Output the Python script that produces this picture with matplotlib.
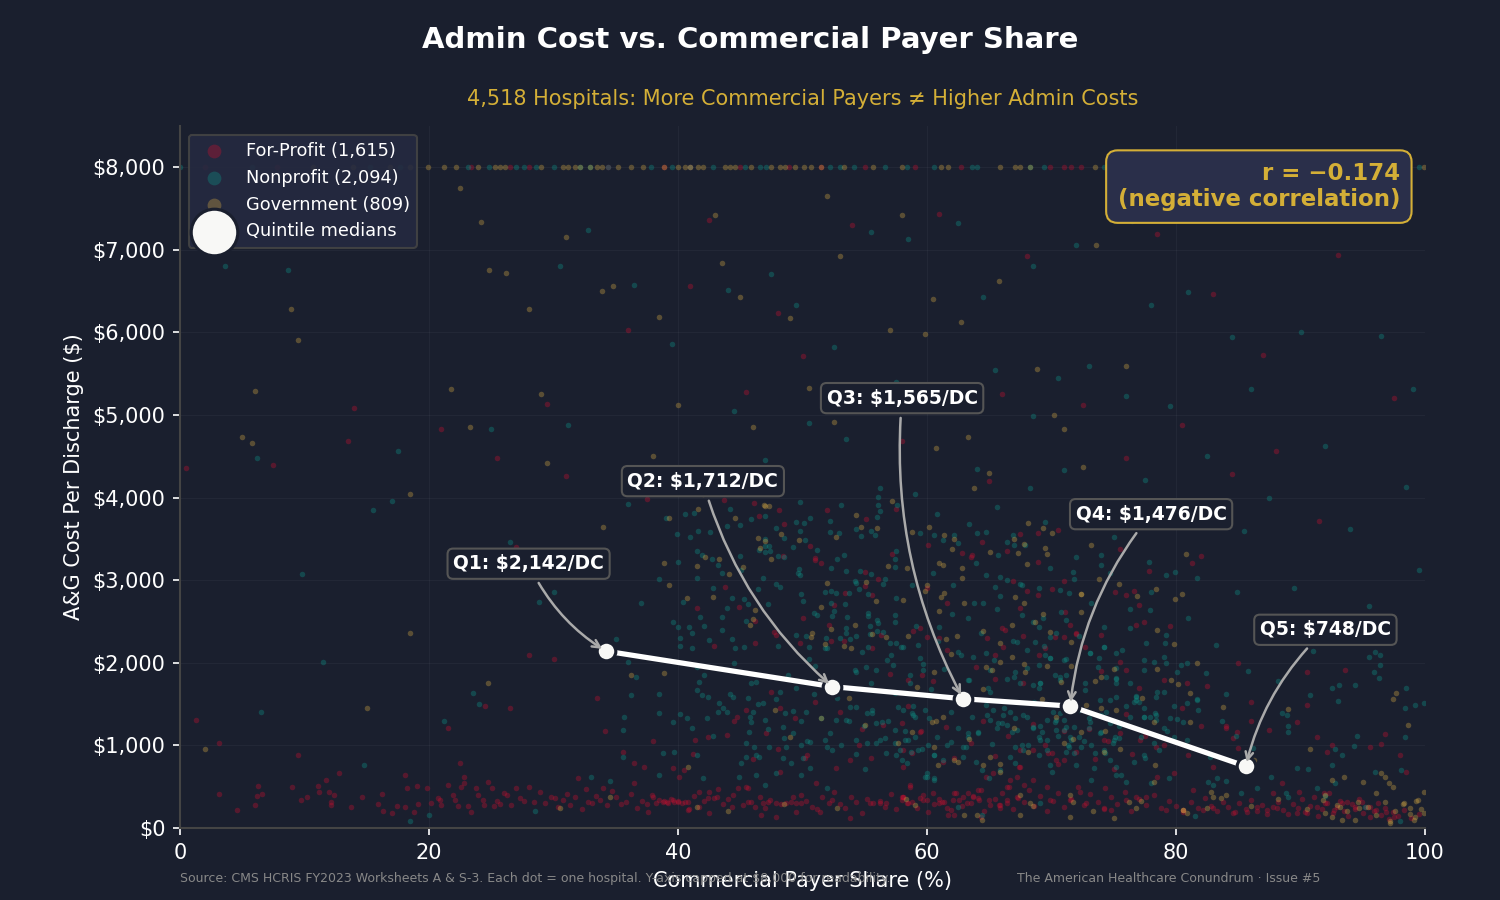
import matplotlib
matplotlib.use('Agg')
import matplotlib.pyplot as plt
from matplotlib.ticker import FuncFormatter

BG = '#1a1f2e'
RED = '#c8102e'
TEAL = '#0d9488'
GOLD = '#d4a843'

# (commercial share %, A&G cost per discharge)
for_profit = [
    (1.3,1307),(3.1,1029),(9.5,883),(6.3,510),(6.6,410),(6.2,390),(3.1,410),(4.6,220),(6.0,280),(9.0,500),
    (11.1,510),(11.7,580),(12.8,670),(10.2,370),(9.7,340),(11.2,440),(12.0,440),(12.4,400),(12.1,310),(12.1,280),
    (13.7,250),(14.6,370),(16.2,410),(15.9,290),(17.4,270),(17.0,180),(16.3,200),(18.1,640),(18.2,480),(19.0,510),
    (19.1,290),(18.1,260),(18.8,190),(19.8,480),(20.2,300),(20.7,360),(20.9,340),(21.0,280),(21.5,520),(21.9,400),
    (22.1,340),(22.3,270),(22.6,500),(22.8,540),(22.8,620),(22.5,790),(21.5,1210),(23.1,270),(23.4,190),(23.8,490),
    (23.9,400),(24.3,340),(24.4,280),(24.7,560),(25.1,490),(25.2,270),(25.5,330),(25.7,290),(26.0,420),(26.3,400),
    (26.6,280),(27.0,490),(27.3,360),(27.6,330),(28.0,500),(28.4,310),(28.9,440),(29.3,300),(29.8,380),(30.1,360),
    (30.4,260),(30.8,340),(31.1,410),(31.3,280),(31.7,370),(32.0,610),(32.3,230),(32.6,470),(32.8,320),(33.1,300),
    (33.4,390),(33.7,340),(34.0,490),(34.1,1180),(34.3,280),(34.7,450),(35.0,380),(35.4,290),(35.8,310),(36.2,410),
    (36.7,240),(37.1,330),(37.5,290),(37.9,400),(38.2,300),(38.5,340),(38.9,330),(39.1,310),(39.4,350),(39.7,320),
    (40.0,330),(40.3,300),(40.6,310),(40.9,230),(41.3,390),(41.7,250),(42.1,330),(42.5,430),(42.9,360),(43.2,470),
    (43.6,290),(44.0,350),(44.4,400),(44.8,480),(45.2,280),(45.6,310),(45.9,310),(46.2,260),(46.6,380),(47.0,240),
    (47.4,340),(47.9,300),(48.3,290),(48.7,300),(49.1,310),(49.5,190),(49.9,400),(50.3,330),(50.8,260),(51.2,230),
    (51.6,380),(52.1,300),(52.5,440),(53.0,290),(53.4,240),(53.9,370),(54.3,310),(54.8,180),(55.2,350),(55.7,300),
    (56.2,330),(56.6,260),(57.1,410),(57.5,230),(58.0,370),(58.4,300),(58.8,320),(59.2,240),(59.7,400),(60.1,190),
    (60.6,290),(61.0,350),(61.4,310),(61.9,220),(62.3,420),(62.8,270),(63.2,300),(63.7,390),(64.2,340),(64.6,210),
    (65.1,280),(65.5,350),(66.0,420),(66.4,300),(66.9,230),(67.3,360),(67.8,320),(68.2,460),(68.6,270),(69.1,390),
    (69.6,200),(70.1,330),(70.5,420),(71.0,250),(71.6,350),(72.1,500),(72.6,280),(73.1,410),(73.7,320),(74.2,230),
    (74.8,370),(75.3,290),(75.9,440),(76.4,210),(77.0,350),(77.6,280),(78.2,400),(78.8,240),(79.4,330),(80.0,270),
    (80.6,190),(81.2,310),(81.8,240),(82.3,360),(82.8,270),(83.3,210),(83.8,320),(84.2,250),(84.7,190),(85.1,300),
    (85.6,230),(86.0,340),(86.5,210),(86.9,280),(87.3,170),(87.8,260),(88.2,320),(88.6,220),(89.0,170),(89.4,290),
    (89.8,240),(90.1,350),(90.4,190),(90.8,270),(91.1,380),(91.4,150),(91.7,230),(92.0,300),(92.3,420),(92.6,180),
    (92.9,250),(93.2,330),(93.5,210),(93.8,140),(94.1,290),(94.4,230),(94.7,350),(95.0,180),(95.3,260),(95.6,130),
    (95.9,210),(96.2,300),(96.5,160),(96.8,240),(97.1,110),(97.4,190),(97.8,150),(98.3,220),(98.9,120),(99.5,170),
    # low band, second pass
    (37.6,197),(38.0,379),(38.8,318),(39.2,298),(39.6,339),(40.0,318),(40.8,218),(40.8,318),(41.7,440),(42.4,359),
    (43.1,379),(42.5,177),(44.3,258),(45.6,480),(46.8,298),(47.2,318),(46.7,157),(47.9,137),(49.5,298),(49.9,298),
    (49.2,379),(51.4,197),(52.4,339),(53.8,117),(55.4,298),(56.2,298),(56.7,298),(58.1,379),(58.6,520),(59.7,339),
    (61.0,298),(61.7,157),(62.6,339),(63.7,379),(64.1,460),(65.0,339),(65.8,278),(66.6,500),(67.4,742),(67.8,520),
    (69.7,904),(45.5,500),(36.5,540),(40.1,621),(39.6,722),(37.3,742),(36.5,790),(35.6,924),(43.9,1126),(44.7,1348),
    (45.5,1428),(48.2,1449),(49.4,1328),(47.5,1650),(42.4,1105),(47.1,1146),(48.2,682),(50.4,884),(50.2,843),(51.1,540),
    (52.7,722),(53.8,823),(54.8,1194),(58.1,944),
    (58.1,378),(58.0,338),(58.6,500),(59.4,358),(60.0,338),(61.2,318),(62.1,338),(62.9,378),(63.5,298),(64.1,358),
    (64.3,459),(62.2,843),(61.6,237),(62.2,157),(65.9,278),(66.4,338),(66.4,500),(66.7,580),(67.5,742),(68.5,580),
    (67.2,378),(69.6,500),(69.9,338),(70.4,822),(71.0,822),(72.3,439),(71.5,338),(72.8,298),(74.3,479),(74.2,237),
    (74.8,217),(76.0,338),(76.8,378),(77.6,378),(79.2,217),(80.6,217),(81.4,459),(79.8,661),(78.4,984),(77.1,1065),
    (75.5,1145),(74.2,1065),(70.0,903),(68.5,944),(67.2,621),(58.5,298),(58.1,742),(59.4,1165),(58.0,1266),(58.8,903),
    (65.3,661),(64.7,621),(61.3,802),(62.2,419),(63.3,419),(60.5,419),(65.9,237),(64.3,136),
    (82.2,217),(83.0,237),(84.6,177),(85.7,197),(86.5,258),(87.3,217),(88.1,237),(89.7,177),(90.5,177),(91.3,258),
    (92.1,298),(92.7,217),(93.3,298),(93.7,318),(94.4,258),(94.9,318),(95.6,258),(96.1,217),(96.9,197),(97.5,137),
    (91.9,419),(89.9,439),(87.8,419),(84.9,1166),(84.6,1085),(92.1,924),(91.3,1105),(90.5,1892),(93.6,1912),(95.6,984),
    (96.8,1134),(98.5,681),(89.7,1287),(84.0,1206),
    # spread above the band
    (28.0,2100),(26.5,1450),(24.5,1480),(30.0,2050),(33.5,1580),(38.0,1050),(40.5,700),(41.2,900),(41.4,1060),(44.5,1290),
    (46.0,830),(48.0,960),(51.0,1520),(53.0,1400),(54.5,1000),(55.5,850),(56.5,1250),(57.0,1860),(58.5,1480),(59.5,1180),
    (60.5,1780),(61.5,1220),(63.5,1030),(64.5,1300),(65.5,870),(66.5,1120),(67.5,950),(68.5,1260),(69.5,1000),(70.5,780),
    (71.0,1180),(72.0,920),(73.0,1200),(73.5,840),(74.5,1050),(75.0,720),(76.0,1380),(76.5,900),(77.5,1120),(78.5,620),
    (79.0,1000),(80.5,1450),(81.0,880),(82.0,1240),(83.0,740),(84.0,1230),(85.0,970),(86.0,1290),(87.5,1190),(88.5,540),
    (90.5,1490),(92.5,1010),(94.0,2360),(96.5,1020),(98.0,880),(60.0,2900),(63.5,3280),(66.0,2420),(68.0,2870),(69.0,2100),
    (72.0,2350),(74.0,1900),(77.0,2700),(79.5,2450),(82.5,1720),(85.0,2000),(86.0,1530),(90.0,2280),(52.5,2700),(55.0,3100),
    (60.1,3426),(62.8,3325),(63.6,3305),(64.4,3467),(66.4,3358),(67.5,3559),(68.9,3568),(68.9,3224),(66.9,2990),(70.0,2890),
    (68.9,2821),(71.0,2990),(61.6,2720),(67.5,2659),(71.1,2619),(71.5,2458),(75.1,2861),(76.6,2873),(76.0,2821),(77.8,3116),
    (81.3,3212),(77.4,2498),(76.8,2458),(74.0,2337),(72.0,2357),(70.3,2308),(71.0,2316),(67.7,2329),(66.3,2397),(59.4,2417),
    (58.9,2385),(60.0,2316),(64.8,2296),(66.1,2195),(69.5,2175),(72.7,2195),(63.9,1945),(65.5,2095),(61.0,2296),(61.6,2155),
    (59.6,1852),(58.5,1792),(65.5,1800),(67.7,1759),(75.5,2014),(76.0,1913),(77.0,1691),(79.0,1792),(80.9,1751),
    (43.7,3971),(46.1,3939),(48.1,3850),(48.5,3680),(50.6,3414),(51.0,3265),(51.0,3244),(51.5,3204),(48.4,3293),(43.8,2913),
    (41.5,2667),(44.9,2671),(46.2,2506),(50.0,2546),(52.1,2453),(52.3,2260),(47.7,2377),(47.9,2336),(46.2,2243),(42.9,2207),
    (49.8,2235),(53.3,2264),(53.4,2849),(55.0,2930),(56.1,3010),(55.6,2821),(55.1,3741),(57.5,3862),(57.2,3317),(56.3,2336),
    (55.6,2175),
    (50.0,5720),(45.5,5280),(41.0,6560),(66.0,5250),(72.5,5120),(76.0,4480),(80.5,4880),(84.5,4290),(88.0,4560),(91.5,3720),
    (93.0,6940),(87.0,5730),(83.0,6460),(78.5,7190),(74.5,7830),(68.0,6920),(61.0,7440),(54.0,7300),(48.0,6230),(42.5,7360),
    (36.0,6030),(29.5,5130),(25.5,4480),(21.0,4830),(14.0,5090),(7.5,4400),(0.5,4360),(13.5,4680),(27.0,3400),(31.0,4260),
    (95.5,7410),(97.5,5210),(65.0,4200),(58.0,4680),(46.5,3780),(37.5,3980),(52.0,3850),(70.5,3610),(75.5,3380),(82.0,3290),
]

nonprofit = [
    (8.7,6760),(3.6,6800),(6.2,4480),(17.5,4560),(14.8,760),(9.8,3080),(6.5,1400),(17.0,3960),(11.5,2010),(15.5,3850),
    (23.5,1640),(24.0,1500),(21.2,1290),(25.0,4830),(28.8,2740),(31.2,4880),(30.5,6800),(32.8,7240),(36.5,6570),(39.5,5860),
    (44.0,6520),(47.5,6710),(49.5,6330),(52.5,5820),(55.5,7220),(58.5,7130),(62.5,7320),(64.5,6430),(68.5,6800),(72.0,7060),
    (76.5,7350),(78.0,6330),(81.0,6490),(84.5,5950),(90.0,6000),(96.5,5960),(99.0,5310),(98.5,4130),(94.0,3620),(99.5,3120),
    (37.0,2730),(38.5,3020),(40.0,2430),(41.5,1950),(42.5,2280),(43.5,2400),(44.5,2000),(45.5,2510),(46.5,3370),(47.0,3500),
    (48.0,2200),(48.8,1850),(49.5,2340),(50.5,2050),(51.0,1960),(52.0,2180),(52.8,1570),(53.5,2420),(54.2,1910),(54.8,2130),
    (55.5,1750),(56.0,2380),(56.8,2030),(57.4,1630),(57.9,2190),(58.6,1850),(59.1,2440),(59.7,1990),(60.3,1680),(60.9,2260),
    (61.4,1920),(62.0,2590),(62.7,2100),(63.3,1790),(63.8,2730),(64.3,2360),(64.9,1690),(65.4,2030),(65.9,2810),(66.4,1800),
    (66.9,2270),(67.5,2950),(68.0,1940),(68.5,2490),(69.0,1700),(69.4,2200),(69.9,3150),(70.3,1850),(70.8,2610),(71.2,2050),
    (71.8,3010),(72.2,2330),(72.7,1750),(73.2,2720),(73.7,1950),(74.2,2430),(74.7,3090),(75.2,1810),(75.7,2150),(76.3,2650),
    (76.8,1600),(77.4,2040),(78.0,2860),(78.5,1650),(79.1,2240),(79.8,1480),(80.4,1970),(81.0,2540),(81.7,1560),(82.4,1880),
    (83.2,2210),(84.0,1620),(84.9,2860),(85.8,1900),(87.0,2450),(88.2,1780),(89.5,2900),(91.0,2140),(93.0,1540),(95.5,2690),
    (38.5,1620),(40.2,1380),(42.8,1120),(43.6,1450),(44.2,1620),(45.8,1340),(46.4,1500),(47.2,1200),(47.9,1560),(48.5,1090),
    (49.2,1420),(49.9,1290),(50.4,1050),(50.9,1620),(51.5,1330),(52.2,1150),(53.1,1010),(53.7,1300),(54.3,900),(54.9,1240),
    (55.6,1430),(56.2,1070),(56.9,1290),(57.5,880),(58.2,1180),(58.9,1480),(59.6,960),(60.2,1330),(60.8,1100),(61.3,820),
    (61.9,1400),(62.5,1210),(63.1,980),(63.6,1340),(64.1,1150),(64.7,1490),(65.2,1020),(65.7,1270),(66.2,1450),(66.7,860),
    (67.2,1190),(67.7,1370),(68.1,1010),(68.6,1530),(69.1,1240),(69.6,950),(70.1,1410),(70.5,1120),(71.0,1310),(71.3,1000),
    (71.8,1220),(72.2,1430),(72.6,1050),(73.0,1330),(73.5,910),(74.0,1160),(74.4,1410),(74.9,1030),(75.4,1240),(76.0,1480),
    (76.6,800),(77.2,1100),(77.9,1350),(78.6,950),(79.3,1180),(80.1,1320),(80.9,1060),(81.8,1430),(82.7,860),(83.7,1290),
    (84.8,1120),(86.2,970),(87.6,620),(89.0,1230),(90.6,710),(92.8,960),(94.5,1120),(96.0,680),(50.0,850),(55.0,720),
    (60.0,660),(65.0,610),(70.0,680),(73.2,580),(75.6,640),(78.0,540),(83.0,520),(86.5,480),(88.8,420),(92.0,390),
    (95.2,250),(98.0,90),(81.5,140),(20.0,160),(18.5,90),(28.5,200),(33.0,620),(34.5,570),(42.0,600),(47.0,520),
    # dense middle of the cloud
    (58.8,1387),(59.0,1347),(58.1,1428),(59.8,1428),(58.5,1065),(59.0,1105),(58.2,1065),(58.0,822),(58.4,782),(60.0,621),
    (60.6,600),(60.6,883),(61.6,1004),(61.9,1044),(63.3,1145),(63.3,1105),(62.9,984),(62.9,863),(64.1,1165),(64.8,1367),
    (65.1,1307),(65.6,1206),(65.3,1428),(66.0,1266),(66.8,1165),(67.1,984),(67.6,1004),(68.5,1226),(69.1,1065),(69.6,1307),
    (70.4,1307),(70.7,1387),(70.4,1186),(71.2,1226),(71.6,1065),(71.8,903),(73.1,1287),(73.2,1004),(73.9,1145),(74.3,903),
    (75.2,742),(76.0,560),(79.4,600),(79.5,1327),(77.4,1347),(76.8,1549),(75.2,1589),(75.0,1065),(75.4,1085),(77.5,843),
    (78.4,1367),(80.6,1287),(81.7,1549),(80.9,1509),(69.1,298),(62.5,257),(64.4,157),(64.4,701),(63.9,802),(65.9,701),
    (67.1,782),(69.9,762),(72.0,762),(73.4,722),(74.7,822),(75.2,641),(77.4,883),(78.2,1024),
    (59.4,3568),(60.6,3547),(61.3,3487),(62.5,3446),(63.4,3681),(64.0,3576),(64.7,3588),(66.4,3467),(66.9,3547),(67.9,3426),
    (65.7,3305),(63.9,3204),(64.7,3063),(65.9,3043),(66.4,3003),(67.6,2942),(69.0,2902),(70.7,2882),(71.4,2841),(72.0,3285),
    (74.0,3305),(74.0,3184),(77.8,3224),(79.2,3063),(79.9,3103),(81.7,3023),(71.7,3103),(62.1,2942),(60.5,3083),(58.8,2942),
    (65.5,2922),(64.5,2720),(65.6,2647),(67.6,2579),(69.3,2538),(69.0,2437),(69.9,2316),(71.2,2518),(70.4,2357),(68.7,2256),
    (67.2,2256),(64.7,2115),(63.3,2538),(61.0,2437),(59.3,2216),(58.1,2195),(59.4,2054),(62.5,2135),(63.7,2074),(65.1,1913),
    (67.1,1893),(69.0,1973),(71.0,2034),(69.9,2054),(73.1,2115),(74.2,2195),(75.2,2115),(76.3,2417),(77.9,2639),(79.2,2337),
    (77.6,2236),(79.0,2074),(80.9,1993),(77.4,1913),(74.4,1832),(70.7,1792),(69.1,1751),(65.1,1650),(63.4,1792),(59.7,1913),
    (58.6,1751),
    (66.1,1368),(66.7,1408),(67.1,1328),(66.4,1247),(68.0,1348),(69.0,1106),(69.2,1166),(68.5,1206),(69.6,1065),(70.3,1287),
    (71.0,1186),(71.5,1106),(71.4,984),(72.2,1106),(73.0,1206),(74.0,1368),(74.7,1267),(75.1,1106),(76.3,1348),(77.4,1449),
    (77.4,1348),(78.4,1307),(78.3,1388),(79.0,1206),(79.8,1106),(69.1,1751),(68.5,1731),(67.5,1751),(67.0,1832),(70.7,1832),
    (71.2,1852),(69.9,2054),(69.5,2094),(68.0,2155),(73.1,2115),(73.8,2054),(74.2,2195),(75.2,1812),(76.3,1751),(75.2,1751),
    (76.6,1529),(77.0,1529),(76.8,1590),(79.0,1650),(78.4,1590),(80.1,1893),(79.2,1993),(78.2,2014),(75.2,1933),(74.7,1550),
    (73.9,1550),(72.7,1671),(67.7,944),(69.0,884),(71.2,924),(72.4,984),(74.2,944),
    # left shoulder of the cloud
    (36.0,2014),(36.6,1832),(36.2,1610),(35.7,1348),(35.6,1186),(35.6,855),(38.5,1388),(38.5,641),(39.6,1287),(39.7,924),
    (38.8,904),(40.7,1328),(41.1,1206),(41.5,884),(42.3,1328),(41.5,1671),(41.9,1610),(42.4,1590),(41.7,1771),(42.1,1852),
    (43.3,1509),(43.2,1408),(43.9,1408),(44.4,1590),(45.6,1570),(46.0,1408),(45.9,1751),(46.3,1771),(46.8,1509),(47.0,1307),
    (45.9,1287),(45.7,1166),(45.5,1025),(46.1,984),(46.3,884),(45.5,863),(46.5,863),(47.3,984),(48.7,984),(48.4,843),
    (49.1,783),(47.9,662),(46.3,641),(45.1,783),(44.9,621),(49.2,1146),(48.4,1227),(48.6,1388),(48.2,1650),(49.5,1691),
    (50.3,1408),(49.9,1005),(50.6,1045),(50.6,722),(49.9,641),(52.0,480),(51.8,1065),(52.0,984),(52.4,944),(52.7,1307),
    (53.5,1307),(53.8,1469),(54.3,1469),(55.2,1388),(55.6,1388),(56.4,1287),(55.9,1267),(54.3,1065),(55.2,1025),(55.9,1025),
    (56.6,1085),(57.4,1186),(57.4,1025),(56.7,904),(57.8,944),(58.7,924),(59.3,944),(60.1,1005),(60.6,884),(59.8,621),
    (60.6,581),(58.9,1368),(57.7,1469),(55.9,1913),(55.1,1953),(57.3,1973),(57.1,2094),(54.3,1893),
    (40.6,3797),(41.3,3809),(39.0,3757),(39.9,3555),(41.0,3519),(41.6,3600),(42.6,3587),(44.2,3858),(43.9,3656),(45.0,3668),
    (45.9,3737),(47.0,3781),(49.8,3943),(53.1,3910),(47.9,3628),(48.5,3515),(49.5,3709),(50.1,3696),(50.6,3749),(49.8,3600),
    (50.2,3487),(52.2,3717),(52.2,3579),(52.9,3567),(49.2,3406),(47.0,3414),(47.3,3414),(47.0,3345),(47.4,3349),(48.0,3293),
    (48.5,3277),(51.2,3365),(52.8,3252),(53.3,3305),(41.5,3357),(41.9,3305),(42.7,3252),(43.2,3184),(43.5,3091),(40.0,3224),
    (41.5,3030),(45.0,3293),(45.1,3123),(46.8,3030),(49.7,3131),(49.6,3091),(49.8,3063),(52.3,3143),(53.5,3115),(54.6,3115),
    (55.5,3075),(54.2,2994),(54.3,2962),(56.5,2954),(56.6,3014),(54.5,2893),(55.3,2833),(53.7,2849),(52.7,2841),(52.3,2869),
    (51.8,2861),(49.9,2833),(50.0,2752),(47.9,2950),(48.2,2913),(46.4,2897),(42.8,2909),(44.3,2788),(45.3,2776),(45.6,2712),
    (47.2,2712),(40.4,2732),(43.9,2659),(43.5,2558),(41.8,2554),(42.1,2445),(40.9,2433),(41.1,2356),(39.6,2498),(40.2,2304),
    (40.2,2207),(44.3,2284),(45.3,2195),(44.6,2175),(41.1,2175),(50.9,2607),(51.2,2578),(52.3,2720),(52.5,2627),(52.4,2570),
    (53.4,2708),(53.6,2550),(55.3,2599),(55.3,2566),(55.4,2445),(56.0,2518),(56.1,2477),(50.3,2328),(51.9,2296),(53.0,2296),
    (53.5,2364),(53.8,2284),(54.3,2328),(55.4,2344),(56.5,2377),(57.0,2235),(57.5,2235),(55.3,2195),(51.8,2175),(50.5,2195),
    (56.1,3910),(56.1,4003),(56.2,4112),(56.2,3842),(56.0,3769),(54.7,3539),(54.3,3620),(55.8,3547),(57.4,3252),(57.4,3156),
    (57.6,3910),(57.5,2780),(57.4,2578),(57.4,2498),
    # right-hand edge
    (91.3,480),(92.8,540),(89.0,379),(85.2,427),(83.3,601),(84.0,573),(82.6,560),(89.7,722),(92.5,762),(93.3,883),
    (94.3,996),(98.1,702),(98.4,1105),(98.5,1690),(98.4,1448),(99.2,1489),(99.9,1509),(90.8,1610),(92.5,1690),(93.1,1731),
    (94.4,1731),(95.9,1892),(96.4,1973),(96.3,1812),(95.5,2074),(96.4,2094),(96.0,2134),(88.9,1368),(88.5,1388),(89.0,1166),
    (55.5,3600),(57.5,3350),(59.0,4040),(60.8,3800),(62.2,3550),(64.0,4350),(65.6,3890),(67.0,3430),(68.3,4120),(69.5,3700),
    (71.0,4340),(73.5,3950),(75.0,3520),(77.5,4210),(80.0,3780),(82.5,4510),(85.5,3600),(87.5,4000),(44.5,5050),(47.0,4450),
    (50.5,4900),(53.5,4710),(55.0,5060),(57.5,5400),(60.5,5280),(63.0,5120),(65.5,5550),(68.5,4990),(70.5,5450),(73.0,5600),
    (76.0,5230),(79.5,5110),(86.0,5320),(92.0,4620),(40.5,4350),(36.0,3920),(33.5,3270),(26.5,3460),(30.0,2860),(35.0,2290),
]

government = [
    (2.0,960),(15.0,1450),(9.5,5910),(6.0,5290),(5.8,4660),(8.9,6280),(5.0,4740),(18.5,2360),(18.5,4050),(22.5,7750),
    (24.2,7340),(24.8,6760),(21.8,5320),(23.3,4850),(26.2,6720),(28.0,6290),(31.0,7150),(29.0,5250),(27.5,3120),(24.7,1750),
    (33.9,6500),(34.8,6560),(38.5,6190),(40.0,5120),(38.0,4500),(34.0,3650),(29.5,4420),(36.2,1850),(43.5,6840),(45.0,6430),
    (43.0,7420),(49.0,6170),(52.0,7650),(53.0,6920),(50.5,5330),(46.0,4850),(42.0,4040),(47.0,3900),(52.5,4920),(57.0,6030),
    (58.0,7420),(59.8,5980),(60.5,6400),(62.7,6130),(65.8,6620),(68.8,5560),(73.6,7060),(71.0,4830),(63.3,4730),(60.7,4600),
    (65.0,4300),(63.8,4120),(70.2,5000),(72.5,4370),(76.0,5600),(75.4,2950),(72.4,2830),(67.0,3500),(61.3,3190),(57.2,3960),
    (55.6,2350),(51.8,2230),(46.2,2640),(44.1,3080),(38.9,1880),(40.7,2790),(47.8,1430),(49.0,1100),(51.5,1330),(53.7,1580),
    (55.0,1250),(57.7,1030),(59.2,1710),(60.7,1300),(62.2,820),(63.4,1080),(64.5,1680),(65.9,770),(67.0,1210),(68.1,920),
    (69.2,1560),(70.4,1340),(71.7,1080),(72.8,1490),(74.3,1180),(75.5,960),(77.3,1580),(78.2,1280),(79.6,1790),(81.1,1630),
    (83.8,1470),(86.3,820),(89.0,1440),(90.8,960),(92.5,580),(97.7,1640),(97.4,1560),(98.6,1250),(93.5,620),(95.0,560),
    (30.5,240),(34.5,370),(41.5,260),(44.0,200),(48.5,290),(52.8,240),(58.3,350),(64.0,160),(68.5,270),(73.3,200),
    (77.2,330),(82.5,240),(84.0,400),(86.0,270),(88.2,350),(90.5,230),(91.8,340),(92.9,280),(93.7,200),(94.6,320),
    (95.4,260),(96.1,160),(96.8,320),(97.6,210),(98.2,290),(98.8,170),(99.3,330),(99.7,230),(99.1,100),(97.2,80),
    (58.8,1165),(60.4,1287),(61.3,1347),(60.6,984),(60.9,762),(62.5,802),(65.1,863),(64.5,762),(65.9,681),(67.5,399),
    (68.3,298),(71.0,1024),(71.5,399),(71.7,318),(72.4,1165),(74.0,1448),(75.2,1428),(74.2,923),(76.2,318),(76.8,237),
    (78.2,560),(78.3,762),(80.6,217),(81.1,1287),(59.0,278),(63.0,157),(64.4,96),(67.5,157),(71.5,136),(75.0,116),
    (58.8,3588),(60.2,3648),(61.4,3547),(62.2,3495),(62.0,3374),(65.1,3346),(67.3,3325),(67.8,3438),(68.1,3689),(69.3,3628),
    (70.0,3568),(69.5,3386),(69.6,3313),(68.0,3192),(62.8,3152),(62.8,3023),(61.0,3204),(58.4,3144),(60.0,2942),(59.8,2873),
    (61.4,2841),(61.1,2793),(63.0,2720),(67.1,2801),(67.8,2720),(69.3,2591),(72.4,2833),(72.4,2611),(73.8,3011),(73.2,3426),
    (78.4,2890),(76.9,2809),(79.9,2768),(80.5,2833),(80.8,3317),(78.5,2397),(79.8,2224),(68.7,2498),(69.9,2377),(66.8,2458),
    (64.5,2389),(62.4,2324),(61.5,2288),(58.5,2329),(58.1,2760),(61.0,2627),(65.9,2244),(71.6,2256),(61.9,2103),(66.8,2074),
    (67.8,1985),(69.6,1965),(65.9,2014),(65.2,1913),(67.9,1893),(64.7,1945),(60.6,1893),(75.0,1925),(74.0,1824),(78.5,1925),
    (81.7,1993),(80.2,1743),(73.5,1784),(71.6,1965),(70.8,1771),
    (39.3,3757),(41.6,3862),(44.6,3757),(46.9,3910),(47.3,3902),(46.4,3515),(47.0,3478),(46.6,3386),(47.5,3252),(48.3,3559),
    (49.7,3487),(52.7,3527),(54.3,3789),(54.7,3648),(56.0,3628),(38.9,3204),(42.2,3285),(43.3,3260),(41.5,3172),(45.2,3164),
    (39.3,2942),(42.8,2800),(52.0,2962),(55.1,2982),(56.9,3176),(55.9,2748),(51.5,2671),(54.2,2453),(46.0,2526),(45.8,2453),
    (50.8,2356),(50.7,2316),(52.3,2409),(56.7,2316),(53.3,2207),(53.9,2175),
    (80.6,217),(80.9,177),(82.8,439),(83.0,379),(83.6,358),(92.0,399),(92.0,177),(92.5,137),(93.2,258),(93.3,96),
    (94.7,237),(96.1,419),(96.5,661),(96.8,621),(97.1,540),(97.4,500),(98.3,298),(98.8,237),(99.2,137),(99.4,338),
    (99.9,177),(99.9,439),(97.2,56),(94.4,96),(40.8,742),
]

# costs are capped at $8,000, so these sit along the top of the plot
capped_for_profit = [23.4,26.5,28.0,34.4,38.9,41.0,45.0,51.5,55.0,59.0,62.7,69.9,71.0,71.6,72.4,2.0,7.8,48.9]
capped_nonprofit = [0.0,5.8,15.3,17.7,23.1,24.8,27.0,27.6,28.6,30.0,32.1,32.9,34.4,37.8,39.5,41.0,42.8,45.4,46.6,47.1,
                    52.2,53.0,54.1,56.6,58.4,60.6,63.6,64.0,68.3,69.4,74.2,99.5]
capped_government = [10.7,13.9,16.9,18.5,19.9,21.2,22.2,23.9,25.3,25.7,26.1,29.0,30.8,31.2,31.7,32.1,32.9,33.5,33.9,35.2,
                     36.2,37.2,38.9,40.0,40.6,41.0,41.6,42.0,43.8,44.2,44.6,45.9,47.5,48.2,48.6,49.4,50.1,50.7,51.5,53.3,
                     55.7,58.0,61.1,61.7,65.9,67.1,67.5,68.3,73.5,99.9]

quintile_x = [34.2, 52.4, 62.9, 71.5, 85.6]
quintile_y = [2142, 1712, 1565, 1476, 748]
quintile_labels = ['Q1: $2,142/DC', 'Q2: $1,712/DC', 'Q3: $1,565/DC', 'Q4: $1,476/DC', 'Q5: $748/DC']
label_x = [28, 42, 58, 78, 92]
label_y = [3200, 4200, 5205, 3800, 2400]

groups = [
    (for_profit, capped_for_profit, RED, 'For-Profit (1,615)'),
    (nonprofit, capped_nonprofit, TEAL, 'Nonprofit (2,094)'),
    (government, capped_government, GOLD, 'Government (809)'),
]

fig = plt.figure(figsize=(10, 6), dpi=150, facecolor=BG)
ax = fig.add_axes([0.12, 0.08, 0.83, 0.78], facecolor=BG)

for points, capped, color, name in groups:
    xs = [p[0] for p in points] + capped
    ys = [p[1] for p in points] + [8000] * len(capped)
    ax.scatter(xs, ys, s=7, c=color, alpha=0.35, linewidths=0, label=name, zorder=2)

ax.plot(quintile_x, quintile_y, color='white', lw=2.5, zorder=5)
ax.scatter(quintile_x, quintile_y, s=80, c='#f8f8f6', edgecolors=BG, linewidths=1.5,
           label='Quintile medians', zorder=6)

for i in range(len(quintile_x)):
    ax.annotate(quintile_labels[i], xy=(quintile_x[i], quintile_y[i]), xytext=(label_x[i], label_y[i]),
                color='white', fontsize=9, fontweight='bold', ha='center', va='center',
                bbox=dict(boxstyle='round,pad=0.3', fc=BG, ec='#555555', lw=1),
                arrowprops=dict(arrowstyle='->', color='#aaaaaa', lw=1.2,
                                connectionstyle='arc3,rad=0.15'), zorder=7)

ax.text(0.98, 0.949, 'r = \u22120.174\n(negative correlation)', transform=ax.transAxes,
        color='#d4af37', fontsize=11, fontweight='bold', ha='right', va='top',
        bbox=dict(boxstyle='round,pad=0.5', fc='#2a2f4a', ec='#d4af37', lw=1), zorder=8)

ax.set_xlim(0, 100)
ax.set_ylim(0, 8500)
ax.yaxis.set_major_formatter(FuncFormatter(lambda v, _: f'${v:,.0f}'))
ax.set_yticks(range(0, 8001, 1000))
ax.tick_params(colors='white', labelsize=10)
ax.grid(color='white', alpha=0.04, lw=0.6)
ax.set_axisbelow(True)
ax.set_xlabel('Commercial Payer Share (%)', color='white', fontsize=10)
ax.set_ylabel('A&G Cost Per Discharge ($)', color='white', fontsize=10)
for side in ['top', 'right']:
    ax.spines[side].set_visible(False)
for side in ['left', 'bottom']:
    ax.spines[side].set_color('#444444')
    ax.spines[side].set_linewidth(1)

leg = ax.legend(loc='upper left', fontsize=8.5, markerscale=2.5, facecolor='#252a40',
                edgecolor='#444444', framealpha=0.9, labelcolor='white')
leg.set_zorder(9)

fig.text(0.5, 0.955, 'Admin Cost vs. Commercial Payer Share', color='white', fontsize=14,
         fontweight='bold', ha='center', va='center')
ax.set_title('4,518 Hospitals: More Commercial Payers \u2260 Higher Admin Costs',
             color='#d4af37', fontsize=10, pad=10)
fig.text(0.12, 0.024, 'Source: CMS HCRIS FY2023 Worksheets A & S-3. Each dot = one hospital. Y-axis capped at $8,000 for readability.',
         color='#888888', fontsize=6, va='center')
fig.text(0.88, 0.024, 'The American Healthcare Conundrum \u00b7 Issue #5', color='#888888', fontsize=6,
         ha='right', va='center')

fig.savefig('out.png', dpi=150, facecolor=BG)
